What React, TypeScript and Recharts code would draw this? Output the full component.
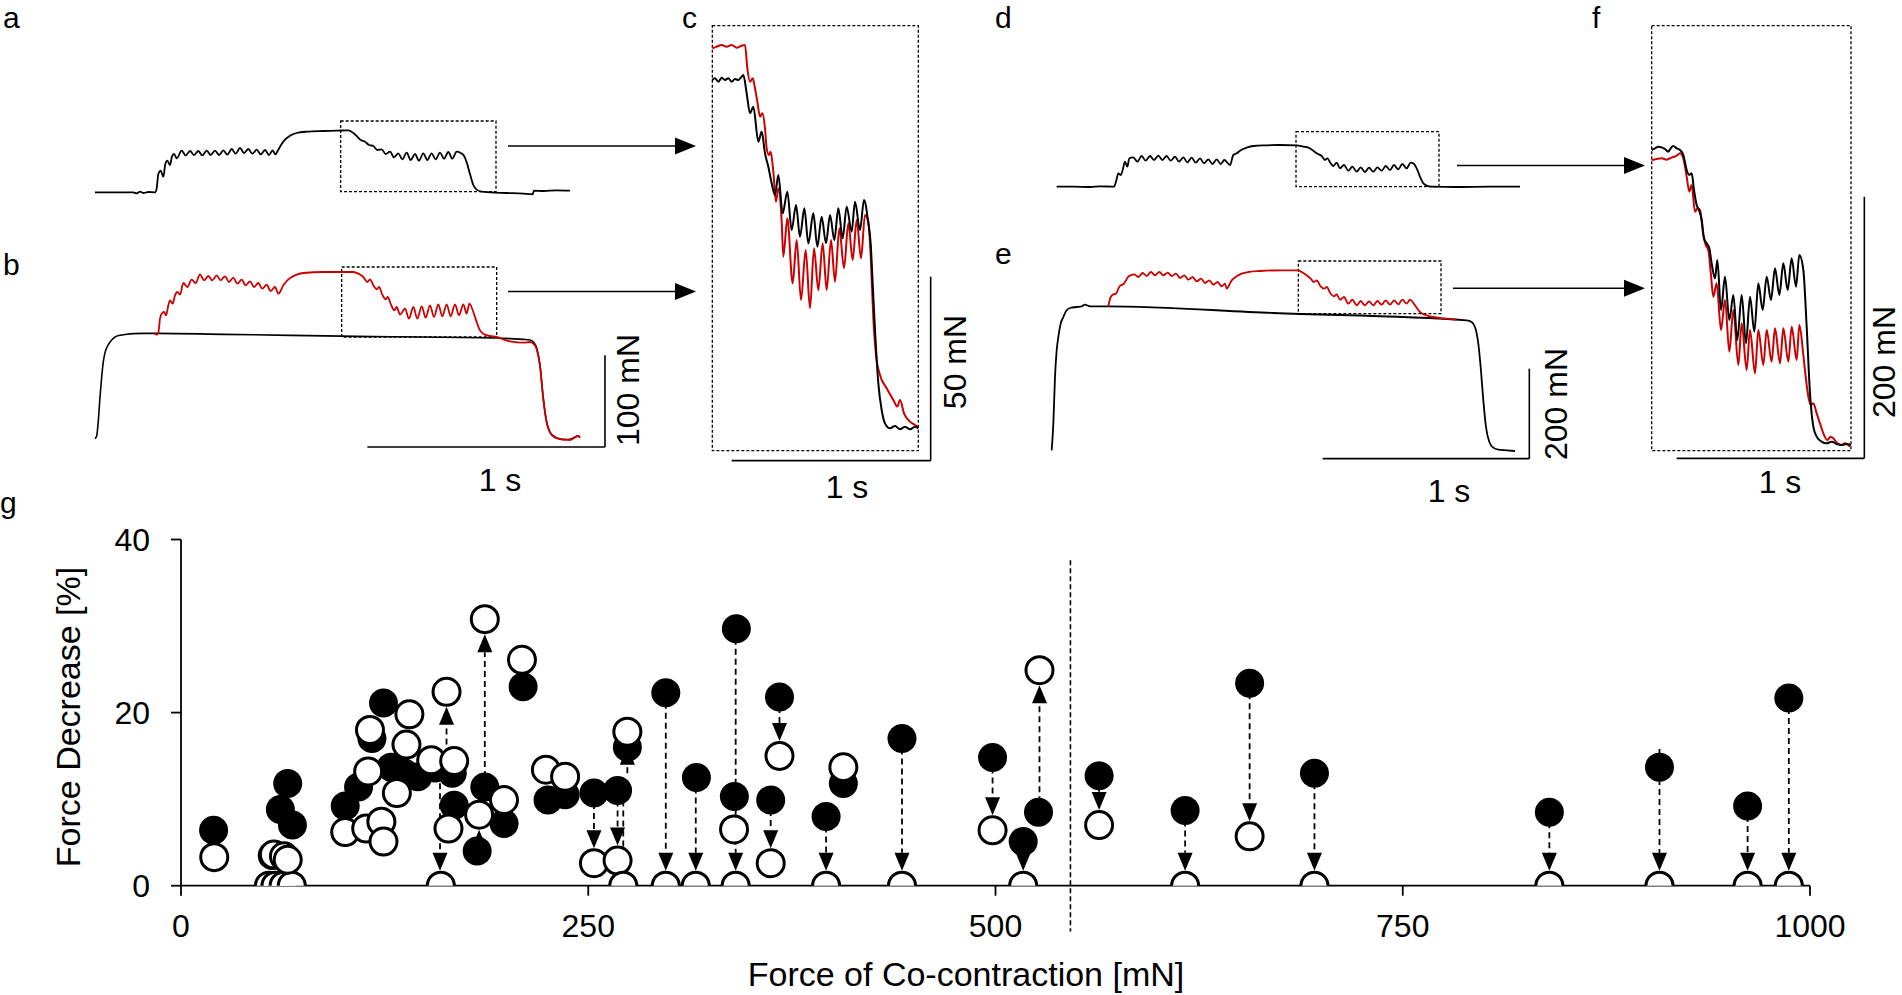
import React from 'react'
import {
  LineChart,
  Line,
  ScatterChart,
  Scatter,
  XAxis,
  YAxis,
  ReferenceArea,
  ReferenceLine,
} from 'recharts'

const FONT = '"Liberation Sans", Arial, Helvetica, sans-serif'
const RED = '#cc0000'

// ---- traces (time in samples, force in a.u. above the baseline) ----
const traceA: [number, number][] = [
  [15, 0], [80, 0], [130, 0], [140, -3], [150, 2], [160, -2], [175, 1], [195, 0], [200, 12], [205, 55],
  [212, 65], [220, 47], [226, 85], [232, 95], [240, 82], [246, 108], [252, 115], [260, 102],
  [275, 125], [287, 111], [300, 124], [312, 112], [325, 124], [337, 111], [350, 125], [362, 112],
  [375, 125], [387, 112], [400, 126], [412, 113], [425, 130], [437, 116], [450, 133], [462, 118],
  [475, 130], [487, 116], [500, 128], [512, 114], [525, 127], [537, 112], [548, 126], [556, 114],
  [565, 128], [575, 145], [585, 158], [600, 170], [620, 178], [650, 182], [700, 184], [740, 185], [775, 186],
  [790, 178], [800, 169], [812, 157], [825, 152], [837, 142], [850, 139], [862, 127], [875, 129],
  [887, 115], [900, 122], [912, 105], [925, 117], [937, 99], [950, 119], [962, 97], [975, 115],
  [987, 95], [1000, 117], [1012, 97], [1025, 117], [1037, 99], [1050, 119], [1062, 101], [1075, 121],
  [1087, 101], [1100, 122], [1112, 118], [1122, 110], [1130, 90], [1140, 55], [1150, 22], [1160, 8],
  [1175, 2], [1200, 0], [1250, -2], [1300, -4], [1328, -6], [1332, 5], [1360, 4], [1400, 6], [1440, 5],
]

const traceBBlack: [number, number][] = [
  [15, 0], [20, 8], [25, 55], [30, 125], [35, 185], [40, 232], [45, 258], [55, 282], [65, 296], [75, 305],
  [90, 310], [110, 313], [130, 315], [160, 316], [200, 316], [400, 313], [600, 310], [800, 307],
  [1000, 305], [1220, 302], [1260, 300], [1300, 298], [1320, 296], [1330, 290], [1340, 272], [1350, 220],
  [1360, 120], [1370, 50], [1380, 20], [1395, 5], [1420, -3], [1440, -2], [1455, 5], [1462, 8], [1470, 3],
]

const traceBRed: [number, number][] = [
  [195, 316], [200, 312], [205, 318], [210, 360], [215, 375], [222, 380], [228, 370], [235, 400], [240, 415],
  [248, 405], [255, 430], [262, 440], [270, 432], [280, 467], [292, 455], [305, 477], [317, 467], [330, 493],
  [342, 475], [355, 488], [367, 475], [380, 490], [392, 475], [405, 487], [417, 470], [430, 483], [442, 465],
  [455, 477], [467, 460], [480, 472], [492, 455], [505, 467], [517, 450], [530, 462], [542, 443], [555, 455],
  [565, 435], [580, 460], [595, 478], [615, 490], [640, 497], [700, 500], [790, 500], [805, 495], [820, 485],
  [832, 470], [840, 478], [850, 460], [860, 448], [867, 455], [877, 432], [887, 418], [893, 425], [903, 402],
  [913, 385], [920, 395], [930, 372], [945, 390], [957, 360], [970, 395], [982, 360], [995, 397], [1007, 363],
  [1020, 400], [1032, 365], [1045, 403], [1057, 367], [1070, 403], [1082, 367], [1095, 403], [1107, 370],
  [1120, 403], [1130, 375], [1138, 405], [1150, 380], [1160, 350], [1170, 325], [1185, 312], [1200, 308],
  [1220, 305], [1240, 298], [1260, 292], [1300, 288], [1320, 290], [1330, 285], [1340, 268], [1350, 218],
  [1360, 118], [1370, 48], [1380, 18], [1395, 3], [1420, -2], [1440, -4], [1455, 4], [1465, 8], [1470, 5],
]

const traceCBlack: [number, number][] = [
  [37, 1045], [45, 1050], [55, 1040], [65, 1052], [75, 1045], [85, 1050], [95, 1040], [105, 1048], [115, 1045],
  [125, 1055], [130, 1060], [140, 1005], [150, 945], [160, 965], [175, 860], [185, 890], [195, 825], [205, 785],
  [215, 735], [225, 700], [235, 760], [248, 645], [262, 710], [275, 595], [288, 670], [300, 575], [313, 660],
  [325, 555], [340, 645], [352, 545], [365, 635], [378, 555], [390, 640], [403, 565], [415, 660], [428, 570],
  [440, 665], [455, 590], [465, 680], [480, 595], [492, 685], [505, 615], [512, 555], [518, 435], [525, 295],
  [535, 135], [545, 55], [555, 15], [570, 0], [585, 7], [600, -3], [615, 5], [630, -3], [645, 5], [655, 0],
]

const traceCRed: [number, number][] = [
  [37, 1140], [50, 1145], [65, 1150], [80, 1145], [95, 1150], [110, 1142], [125, 1148], [135, 1150], [142, 1080],
  [150, 1040], [158, 1050], [165, 1020], [172, 980], [180, 935], [187, 945], [195, 900], [200, 840], [207, 820],
  [212, 830], [220, 770], [228, 680], [235, 720], [245, 620], [250, 515], [262, 630], [278, 435], [290, 565],
  [303, 385], [317, 535], [330, 360], [342, 540], [355, 415], [368, 555], [380, 415], [393, 565], [405, 440],
  [418, 600], [432, 480], [445, 615], [458, 505], [470, 625], [483, 510], [495, 640], [505, 620], [512, 520],
  [520, 330], [528, 220], [540, 160], [560, 120], [580, 85], [592, 65], [600, 85], [612, 45], [630, 20],
  [645, 10], [655, 5],
]

const traceD: [number, number][] = [
  [50, 0], [100, 0], [150, -1], [180, 1], [222, 0], [228, 15], [235, 40], [242, 35], [248, 50], [255, 75],
  [262, 60], [268, 85], [280, 88], [292, 75], [305, 92], [317, 78], [330, 92], [342, 80], [355, 93], [367, 80],
  [380, 92], [392, 78], [405, 90], [417, 75], [430, 88], [442, 73], [455, 87], [467, 72], [480, 85], [492, 70],
  [505, 82], [517, 68], [530, 82], [542, 68], [553, 80], [570, 65], [580, 95], [590, 100], [600, 108],
  [620, 117], [640, 122], [680, 124], [720, 125], [770, 124], [790, 120], [805, 117], [820, 108], [830, 100],
  [845, 92], [855, 80], [862, 85], [872, 70], [880, 62], [890, 72], [900, 55], [912, 65], [925, 48], [937, 60],
  [950, 45], [962, 58], [975, 44], [987, 57], [1000, 45], [1012, 58], [1025, 48], [1037, 62], [1050, 50],
  [1062, 65], [1075, 52], [1087, 68], [1100, 55], [1112, 72], [1120, 70], [1130, 55], [1140, 30], [1150, 10],
  [1160, 3], [1175, 0], [1250, -1], [1350, 0], [1440, 0],
]

const traceEBlack: [number, number][] = [
  [35, 0], [40, 80], [45, 220], [50, 300], [55, 340], [62, 380], [70, 400], [80, 420], [90, 427], [110, 430],
  [125, 432], [135, 437], [150, 432], [200, 432], [700, 412], [1280, 390], [1295, 385], [1305, 370],
  [1315, 320], [1322, 250], [1330, 150], [1338, 70], [1348, 25], [1360, 8], [1375, 2], [1400, 0], [1425, -2],
]

const traceERed: [number, number][] = [
  [205, 432], [212, 460], [220, 468], [228, 470], [235, 485], [242, 495], [250, 498], [258, 510], [266, 522],
  [283, 528], [295, 520], [308, 532], [320, 523], [333, 535], [345, 525], [358, 535], [370, 525], [383, 533],
  [395, 523], [408, 530], [420, 517], [433, 525], [445, 512], [458, 520], [470, 507], [483, 515], [495, 502],
  [508, 510], [520, 497], [533, 505], [545, 492], [555, 500], [560, 485], [575, 510], [590, 522], [605, 530],
  [625, 535], [660, 538], [720, 540], [775, 540], [785, 535], [800, 525], [812, 515], [822, 505], [830, 510],
  [842, 492], [852, 485], [860, 490], [872, 470], [882, 462], [890, 468], [900, 452], [912, 460], [925, 440],
  [937, 452], [950, 435], [962, 448], [975, 435], [987, 447], [1000, 435], [1012, 448], [1025, 437],
  [1037, 450], [1050, 437], [1062, 450], [1075, 438], [1087, 452], [1100, 440], [1110, 452], [1125, 435],
  [1140, 415], [1160, 405], [1180, 400], [1210, 396], [1250, 392],
]

const traceFBlack: [number, number][] = [
  [35, 885], [45, 890], [55, 895], [65, 893], [75, 888], [85, 880], [92, 890], [100, 897], [110, 890],
  [120, 885], [130, 870], [140, 825], [148, 810], [155, 815], [162, 765], [170, 720], [177, 705], [185, 675],
  [192, 620], [200, 605], [208, 590], [215, 545], [225, 500], [232, 555], [243, 405], [255, 505], [268, 375],
  [280, 450], [292, 315], [305, 450], [318, 305], [330, 445], [343, 340], [355, 485], [368, 405], [380, 505],
  [393, 435], [405, 530], [418, 450], [430, 545], [443, 465], [455, 560], [468, 475], [478, 570], [490, 525],
  [500, 355], [510, 155], [520, 55], [530, 25], [545, 10], [560, 5], [575, 10], [590, 3], [605, 0], [620, 3],
  [633, 0],
]

const traceFRed: [number, number][] = [
  [35, 855], [50, 858], [65, 860], [80, 856], [95, 862], [110, 868], [120, 875], [130, 860], [140, 805],
  [148, 760], [155, 780], [165, 700], [173, 710], [180, 705], [190, 630], [197, 600], [205, 585], [212, 520],
  [220, 445], [230, 485], [243, 345], [255, 435], [268, 280], [280, 405], [295, 240], [305, 365], [320, 225],
  [330, 345], [345, 215], [355, 345], [370, 240], [380, 345], [395, 250], [405, 350], [420, 245], [430, 350],
  [445, 250], [455, 355], [470, 255], [478, 360], [490, 270], [497, 205], [505, 145], [512, 120], [520, 125],
  [530, 95], [540, 65], [550, 35], [562, 15], [572, 25], [580, 20], [592, 5], [605, 0], [615, 5], [630, -5],
]

// ---- panel g ----
const filledForce = [
  20, 56, 61, 65.5, 68.4, 100.8, 109, 117.2, 124.3, 129, 137.2, 145.4, 156, 166.5, 167.7, 186.5, 198.3, 181.8,
  210, 225.3, 235.8, 253.5, 268, 274, 297.6, 316.4, 340.9, 339.7, 367.4, 362, 406.6, 396, 442.6, 498.2, 526.4,
  517, 563.6, 616.4, 656, 695.8, 840, 907.6, 961.7, 987,
]
const filledDecrease = [
  6.4, 3.5, 8.8, 11.8, 7.0, 9.2, 11.4, 17.0, 21.1, 13.7, 13.0, 12.6, 13.6, 13.0, 9.3, 11.4, 7.2, 4.0,
  23.0, 9.9, 10.5, 10.7, 11.0, 16.0, 22.3, 12.5, 29.7, 10.3, 21.8, 9.9, 11.8, 8.0, 17.0, 14.8, 8.5,
  5.1, 12.7, 8.7, 23.4, 13.0, 8.5, 13.7, 9.2, 21.7,
]
const openForce = [
  20.4, 54, 58, 63, 68, 57, 63.2, 65.5, 100.8, 113.7, 123, 124.3, 116, 114.9, 132.5, 140.2, 138.4, 153.6,
  163, 167.7, 164.2, 159.5, 186.5, 183, 198.3, 209.3, 224, 235.8, 253.5, 268, 271.5, 274, 297.6, 316, 340.5,
  339.5, 367.4, 362, 406.6, 396, 442.6, 498.2, 527, 517, 563.6, 616.4, 656, 695.8, 840, 907.6, 961.7, 987,
]
const openDecrease = [
  3.3, 0, 0, 0, 0, 3.6, 3.4, 3.0, 6.2, 6.6, 7.4, 5.1, 18.0, 13.2, 10.7, 19.8, 16.3, 14.5,
  22.4, 14.4, 6.6, 0, 30.8, 8.2, 9.9, 26.1, 13.4, 12.6, 2.6, 2.9, 0, 17.8, 0, 0, 0,
  6.5, 15.0, 2.6, 13.7, 0, 0, 6.4, 24.9, 0, 7.0, 0, 5.7, 0, 0, 0, 0, 0,
]
const arrowForce = [
  159, 163, 186.5, 183, 139.5, 253.5, 268, 271.5, 274, 297.6, 316, 340.5, 367.4, 362, 396, 442.6, 498.2,
  527, 517, 563.6, 616.4, 656, 695.8, 840, 907.6, 961.7, 987,
]
const arrowFrom = [
  13, 14, 11.4, 4.0, 13.0, 10.7, 11.0, 11.0, 13.0, 22.3, 12.5, 29.7, 21.8, 9.9, 8.0, 17.0, 14.8,
  8.5, 5.1, 12.7, 8.7, 23.4, 13.0, 8.5, 15.8, 9.2, 21.7,
]
const arrowTo = [
  0, 22.4, 30.8, 8.2, 19.8, 2.6, 2.9, 0, 17.8, 0, 0, 0, 15.0, 2.6, 0, 0, 6.4,
  24.9, 0, 7.0, 0, 5.7, 0, 0, 0, 0, 0,
]
const forceTicks = [0, 250, 500, 750, 1000]
const decreaseTicks = [0, 20, 40]
const thresholdForce = 546

const rows = (pts: [number, number][]) => pts.map(([t, f]) => ({ t, f }))

type PanelProps = {
  left: number
  top: number
  width: number
  height: number
  xMax: number
  yMin: number
  yMax: number
  traces: { pts: [number, number][]; color: string; w: number }[]
  box: [number, number, number, number]
  bars?: { x: number; yTop: number; yBar: number; xStart: number }
}

function TracePanel({ left, top, width, height, xMax, yMin, yMax, traces, box, bars }: PanelProps) {
  return (
    <div style={{ position: 'absolute', left, top }}>
      <LineChart width={width} height={height} margin={{ top: 0, right: 0, bottom: 0, left: 0 }}>
        <XAxis type="number" dataKey="t" domain={[0, xMax]} hide allowDataOverflow height={0} />
        <YAxis type="number" dataKey="f" domain={[yMin, yMax]} hide allowDataOverflow width={0} />
        <ReferenceArea
          x1={box[0]}
          x2={box[1]}
          y1={box[2]}
          y2={box[3]}
          fill="none"
          stroke="#000"
          strokeWidth={1.3}
          strokeDasharray="3 2"
          ifOverflow="visible"
        />
        {traces.map((tr, i) => (
          <Line
            key={i}
            data={rows(tr.pts)}
            dataKey="f"
            type="monotone"
            stroke={tr.color}
            strokeWidth={tr.w}
            dot={false}
            activeDot={false}
            isAnimationActive={false}
          />
        ))}
        {bars && (
          <ReferenceLine
            segment={[{ x: bars.x, y: bars.yTop }, { x: bars.x, y: bars.yBar }]}
            stroke="#000"
            strokeWidth={1.6}
            ifOverflow="visible"
          />
        )}
        {bars && (
          <ReferenceLine
            segment={[{ x: bars.xStart, y: bars.yBar }, { x: bars.x, y: bars.yBar }]}
            stroke="#000"
            strokeWidth={1.6}
            ifOverflow="visible"
          />
        )}
      </LineChart>
    </div>
  )
}

const FilledDot = (p: any) => <circle cx={p.cx} cy={p.cy} r={14.5} fill="#000" />
const OpenDot = (p: any) => (
  <circle cx={p.cx} cy={p.cy} r={13.5} fill="#fff" stroke="#000" strokeWidth={3} />
)

const ArrowShape = (p: any) => {
  const { x1, y1, y2 } = p
  const dir = y2 > y1 ? 1 : -1
  const tipY = y2 - dir * 15
  const baseY = tipY - dir * 18
  return (
    <g>
      <line x1={x1} y1={y1} x2={x1} y2={baseY} stroke="#000" strokeWidth={1.8} strokeDasharray="6 4" />
      <polygon points={`${x1 - 7.5},${baseY} ${x1 + 7.5},${baseY} ${x1},${tipY}`} fill="#000" />
    </g>
  )
}

function Arrow({ x1, x2, y }: { x1: number; x2: number; y: number }) {
  return (
    <g>
      <line x1={x1} y1={y} x2={x2 - 20} y2={y} stroke="#000" strokeWidth={1.4} />
      <polygon points={`${x2 - 21},${y - 8.5} ${x2 - 21},${y + 8.5} ${x2},${y}`} fill="#000" />
    </g>
  )
}

function VText({ x, y, children }: { x: number; y: number; children: React.ReactNode }) {
  return (
    <text
      transform={`translate(${x},${y}) rotate(-90)`}
      textAnchor="middle"
      dominantBaseline="central"
      fontSize={32}
    >
      {children}
    </text>
  )
}

export default function App() {
  const filledRows = filledForce.map((x, i) => ({ x, y: filledDecrease[i] }))
  const openRows = openForce.map((x, i) => ({ x, y: openDecrease[i] }))
  const tickStyle = { fill: '#000', fontSize: 32, fontFamily: FONT }

  return (
    <div
      style={{
        position: 'absolute',
        left: 0,
        top: 0,
        width: 1902,
        height: 995,
        background: '#fff',
        fontFamily: FONT,
      }}
    >
      <TracePanel
        left={90}
        top={100}
        width={520}
        height={307 / 3}
        xMax={1560}
        yMin={-30}
        yMax={277}
        traces={[{ pts: traceA, color: '#000', w: 1.8 }]}
        box={[752, 1218, 2, 214]}
      />
      <TracePanel
        left={90}
        top={100 + 440 / 3}
        width={520}
        height={605 / 3}
        xMax={1560}
        yMin={-30}
        yMax={575}
        traces={[
          { pts: traceBBlack, color: '#000', w: 1.6 },
          { pts: traceBRed, color: RED, w: 1.8 },
        ]}
        box={[755, 1220, 305, 515]}
        bars={{ x: 1545, yTop: 250, yBar: -25, xStart: 832 }}
      />
      <TracePanel
        left={700}
        top={10}
        width={280}
        height={1360 / 3}
        xMax={840}
        yMin={-105}
        yMax={1255}
        traces={[
          { pts: traceCRed, color: RED, w: 2 },
          { pts: traceCBlack, color: '#000', w: 2 },
        ]}
        box={[37, 655, -67, 1208]}
        bars={{ x: 692, yTop: 455, yBar: -97, xStart: 95 }}
      />
      <TracePanel
        left={1040}
        top={110}
        width={520}
        height={80}
        xMax={1560}
        yMin={-10}
        yMax={230}
        traces={[{ pts: traceD, color: '#000', w: 1.8 }]}
        box={[768, 1197, 0, 165]}
      />
      <TracePanel
        left={1040}
        top={110 + 440 / 3}
        width={520}
        height={610 / 3}
        xMax={1560}
        yMin={-30}
        yMax={580}
        traces={[
          { pts: traceEBlack, color: '#000', w: 1.8 },
          { pts: traceERed, color: RED, w: 1.8 },
        ]}
        box={[775, 1203, 410, 568]}
        bars={{ x: 1468, yTop: 245, yBar: -25, xStart: 848 }}
      />
      <TracePanel
        left={1640}
        top={10}
        width={262}
        height={450}
        xMax={786}
        yMin={-45}
        yMax={1305}
        traces={[
          { pts: traceFRed, color: RED, w: 2 },
          { pts: traceFBlack, color: '#000', w: 2 },
        ]}
        box={[35, 633, -17, 1258]}
        bars={{ x: 673, yTop: 745, yBar: -40, xStart: 110 }}
      />

      <div style={{ position: 'absolute', left: 0, top: 500 }}>
        <ScatterChart width={1902} height={495} margin={{ top: 39.5, right: 92, bottom: 49.3, left: 0 }}>
          <XAxis
            type="number"
            dataKey="x"
            domain={[0, 1000]}
            ticks={forceTicks}
            interval={0}
            allowDataOverflow
            height={60}
            tickSize={10}
            tickMargin={19}
            axisLine={{ stroke: '#000', strokeWidth: 1.8 }}
            tickLine={{ stroke: '#000', strokeWidth: 1.8 }}
            tick={tickStyle}
          />
          <YAxis
            type="number"
            dataKey="y"
            domain={[0, 40]}
            ticks={decreaseTicks}
            interval={0}
            allowDataOverflow
            width={181}
            tickSize={10}
            tickMargin={21}
            axisLine={{ stroke: '#000', strokeWidth: 1.8 }}
            tickLine={{ stroke: '#000', strokeWidth: 1.8 }}
            tick={tickStyle}
          />
          <Scatter data={filledRows} shape={FilledDot} isAnimationActive={false} />
          <Scatter data={openRows} shape={OpenDot} isAnimationActive={false} />
          {arrowForce.map((x, i) => (
            <ReferenceLine
              key={i}
              segment={[{ x, y: arrowFrom[i] }, { x, y: arrowTo[i] }]}
              shape={ArrowShape}
              ifOverflow="visible"
            />
          ))}
          <ReferenceLine
            segment={[{ x: thresholdForce, y: 37.6 }, { x: thresholdForce, y: -5.3 }]}
            stroke="#000"
            strokeWidth={1.6}
            strokeDasharray="5 3"
            ifOverflow="visible"
          />
        </ScatterChart>
      </div>

      <svg
        width={1902}
        height={995}
        style={{ position: 'absolute', left: 0, top: 0, pointerEvents: 'none' }}
        fontFamily={FONT}
      >
        <Arrow x1={508} x2={696} y={146} />
        <Arrow x1={508} x2={696} y={291.5} />
        <Arrow x1={1457} x2={1645} y={165.5} />
        <Arrow x1={1453} x2={1645} y={288.3} />

        <g fontSize={30}>
          <text x={3} y={28}>a</text>
          <text x={3} y={275}>b</text>
          <text x={682} y={28}>c</text>
          <text x={995} y={28}>d</text>
          <text x={995} y={264}>e</text>
          <text x={1592} y={28}>f</text>
          <text x={0} y={513}>g</text>
        </g>

        <VText x={628} y={390}>100 mN</VText>
        <VText x={955} y={362}>50 mN</VText>
        <VText x={1556} y={404}>200 mN</VText>
        <VText x={1884} y={362}>200 mN</VText>
        <g fontSize={32} textAnchor="middle">
          <text x={500} y={491}>1 s</text>
          <text x={847} y={498}>1 s</text>
          <text x={1449} y={502}>1 s</text>
          <text x={1780} y={493}>1 s</text>
        </g>

        <g fontSize={34} textAnchor="middle">
          <text x={966} y={986}>Force of Co-contraction [mN]</text>
          <text transform="translate(68,717) rotate(-90)" dominantBaseline="central">
            Force Decrease [%]
          </text>
        </g>
      </svg>
    </div>
  )
}
